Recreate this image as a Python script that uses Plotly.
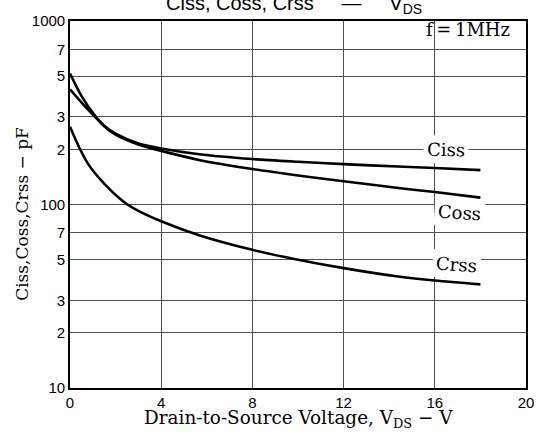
import plotly.graph_objects as go
import math

# Data (VDS in V, capacitance in pF)
vds_ciss = [0, 0.5, 1.1, 1.5, 2, 3, 4, 5.66, 8, 10, 12, 14.4, 16, 18]
ciss = [424, 360, 300, 269, 243, 215, 202, 188, 177, 171, 166, 161, 158, 154]

vds_coss = [0, 0.5, 1.1, 1.5, 2, 3, 4, 5.66, 8, 10, 12, 14.4, 16, 18]
coss = [517, 391, 304, 267, 240, 212, 196, 175, 156, 144, 134, 123, 117, 109]

vds_crss = [0, 0.4, 0.8, 1.5, 2.4, 3, 4, 5.66, 8, 10, 12, 14.4, 16, 18]
crss = [265, 205, 166, 130, 102.5, 92.3, 81, 68, 56.6, 50, 45, 40.5, 38.5, 36.7]

x_ticks = [0, 4, 8, 12, 16, 20]
y_ticks = [10, 20, 30, 50, 70, 100, 200, 300, 500, 700, 1000]
y_ticktext = ["10", "2", "3", "5", "7", "100", "2", "3", "5", "7", "1000"]

SERIF = "DejaVu Serif"
SANS = "Liberation Sans"

fig = go.Figure()
for xs, ys, name in [(vds_ciss, ciss, "Ciss"), (vds_coss, coss, "Coss"), (vds_crss, crss, "Crss")]:
    fig.add_trace(go.Scatter(x=xs, y=ys, mode="lines", name=name,
                             line=dict(color="black", width=2.6, shape="spline", smoothing=0.8),
                             showlegend=False, hoverinfo="skip"))

axis_common = dict(showgrid=True, gridcolor="#505050", gridwidth=1,
                   showline=True, linecolor="black", linewidth=1.6, mirror=True,
                   zeroline=False, ticks="", tickfont=dict(family=SANS, size=15, color="black"))

fig.update_xaxes(range=[0, 20], tickvals=x_ticks, ticktext=[str(v) for v in x_ticks], **axis_common)
fig.update_yaxes(type="log", range=[1, 3], tickvals=y_ticks, ticktext=y_ticktext, **axis_common)

sp = "\u00a0" * 5
annotations = [
    dict(text="Ciss, Coss, Crss" + sp + "\u2014" + sp + "V<sub>DS</sub>", xref="paper", yref="paper",
         x=(165 - 70) / 459, y=1, xanchor="left", yanchor="bottom", yshift=2,
         showarrow=False, font=dict(family=SANS, size=20, color="black")),
    dict(text="Drain-to-Source Voltage, V<sub>DS</sub> \u2212 V", xref="paper", yref="paper",
         x=(300 - 70) / 459, y=(388 - 420) / 373, xanchor="center", yanchor="middle",
         showarrow=False, font=dict(family=SERIF, size=18.4, color="black")),
    dict(text="Ciss,Coss,Crss \u2212 pF", xref="paper", yref="paper", textangle=-90,
         x=0, xshift=-48, y=(388 - 211) / 373, xanchor="center", yanchor="middle",
         showarrow=False, font=dict(family=SERIF, size=17, color="black")),
    dict(text="f\u2009=\u20091MHz", xref="paper", yref="paper",
         x=(471 - 70) / 459, y=(388 - 24) / 373, xanchor="center", yanchor="middle",
         showarrow=False, font=dict(family=SERIF, size=18, color="black")),
]

labels = [("Ciss", 16.5, 200, 1), ("Coss", 17.1, 90.6, 4), ("Crss", 16.95, 47, 4)]
for text, lx, ly, ang in labels:
    annotations.append(dict(text=text, x=lx, y=math.log10(ly), xref="x", yref="y",
                            showarrow=False, textangle=ang, bgcolor="white", borderpad=3,
                            font=dict(family=SERIF, size=18, color="black")))

fig.update_layout(width=546, height=439, margin=dict(l=70, r=17, t=15, b=51),
                  paper_bgcolor="white", plot_bgcolor="white", annotations=annotations)

fig.write_html("out.html")
